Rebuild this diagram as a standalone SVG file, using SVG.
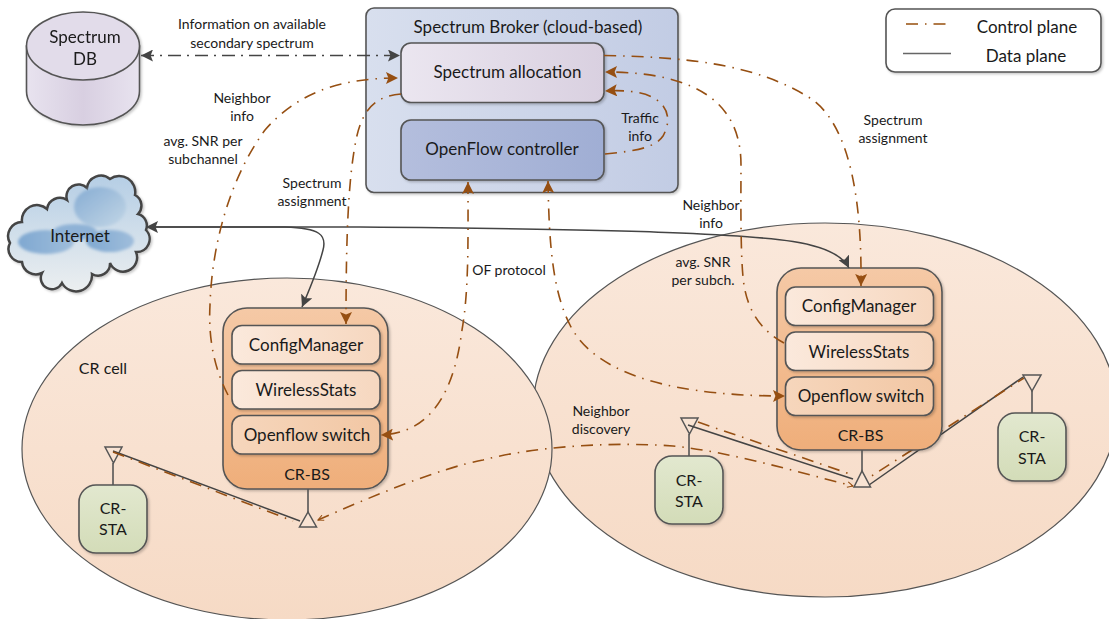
<svg xmlns="http://www.w3.org/2000/svg" width="1109" height="619" viewBox="0 0 1109 619">
<style>
text{font-family:"Lato","Open Sans","Liberation Sans",sans-serif;fill:#1a1a1a;text-anchor:middle}
.s{font-size:14px}.m{font-size:17px}.t{font-size:16px}
.n{stroke:#555;stroke-width:1.6}
.c{fill:none;stroke:#964f12;stroke-width:1.6;stroke-dasharray:12 7 1.500 7}
.d{fill:none;stroke:#444;stroke-width:1.500}
.dd{fill:none;stroke:#444;stroke-width:1.5;stroke-dasharray:13 6 2 6}
.an{fill:#f8e3d3;stroke:#555;stroke-width:1.5}
</style>
<defs>
<marker id="ab" viewBox="0 0 10 10" refX="10" refY="5" markerWidth="12" markerHeight="12" markerUnits="userSpaceOnUse" orient="auto-start-reverse"><path d="M0 0L10 5L0 10L2 5Z" fill="#964f12"/></marker>
<marker id="ad" viewBox="0 0 10 10" refX="10" refY="5" markerWidth="12" markerHeight="12" markerUnits="userSpaceOnUse" orient="auto-start-reverse"><path d="M0 0L10 5L0 10L2 5Z" fill="#444"/></marker>
<marker id="ao" viewBox="0 0 10 10" refX="9" refY="5" markerWidth="7" markerHeight="7" markerUnits="userSpaceOnUse" orient="auto-start-reverse"><path d="M1 1L9 5L1 9" fill="none" stroke="#964f12" stroke-width="1.5"/></marker>
<linearGradient id="cell" x1="0" y1="0" x2="0" y2="1"><stop offset="0" stop-color="#fae8db"/><stop offset="1" stop-color="#f6dac5"/></linearGradient>
<linearGradient id="brk" x1="0" y1="0" x2="1" y2="0"><stop offset="0" stop-color="#d8dfee"/><stop offset="1" stop-color="#c2cce4"/></linearGradient>
<linearGradient id="alc" x1="0" y1="0" x2="1" y2="0"><stop offset="0" stop-color="#ebe6f0"/><stop offset="1" stop-color="#d9d0e0"/></linearGradient>
<linearGradient id="ofc" x1="0" y1="0" x2="1" y2="0"><stop offset="0" stop-color="#b4bedd"/><stop offset="1" stop-color="#a0aed4"/></linearGradient>
<linearGradient id="bs" x1="0" y1="0" x2="0" y2="1"><stop offset="0" stop-color="#f5c9a6"/><stop offset="1" stop-color="#efae7a"/></linearGradient>
<linearGradient id="m1" x1="0" y1="0" x2="1" y2="0"><stop offset="0" stop-color="#fbe9dc"/><stop offset="1" stop-color="#f6d7bf"/></linearGradient>
<linearGradient id="m2" x1="0" y1="0" x2="1" y2="0"><stop offset="0" stop-color="#f6d6bc"/><stop offset="1" stop-color="#f2c7a4"/></linearGradient>
<linearGradient id="sta" x1="0" y1="0" x2="0" y2="1"><stop offset="0" stop-color="#e2e8cf"/><stop offset="1" stop-color="#d3dcb8"/></linearGradient>
<linearGradient id="cyl" x1="0" y1="0" x2="1" y2="0"><stop offset="0" stop-color="#e8e3ef"/><stop offset=".5" stop-color="#d8cfe1"/><stop offset="1" stop-color="#e8e3ef"/></linearGradient>
<linearGradient id="cld" x1="0" y1="0" x2="0" y2="1"><stop offset="0" stop-color="#b5cee5"/><stop offset="1" stop-color="#eceff0"/></linearGradient>
<linearGradient id="blob" x1="0" y1="0" x2="1" y2="1"><stop offset="0" stop-color="#86acd3"/><stop offset="1" stop-color="#c2d6e6"/></linearGradient>
<linearGradient id="blob2" x1="0" y1="0" x2="1" y2="0"><stop offset="0" stop-color="#7fa8d1"/><stop offset="1" stop-color="#9fbddb"/></linearGradient>
<filter id="sh" x="-10%" y="-10%" width="125%" height="125%"><feDropShadow dx="1.5" dy="1.5" stdDeviation="1.2" flood-color="#000" flood-opacity=".22"/></filter>
<filter id="soft" x="-20%" y="-20%" width="140%" height="140%"><feGaussianBlur stdDeviation="1.500"/></filter>
</defs>

<g id="cell-right"><ellipse cx="825" cy="410" rx="292" ry="187" fill="url(#cell)" stroke="#555" stroke-width="1.2"/></g>
<g id="cell-left"><ellipse cx="287" cy="449" rx="265" ry="171" fill="url(#cell)" stroke="#555" stroke-width="1.2"/><text x="103" y="374" class="t">CR cell</text></g>

<g id="connectors-under">
<path class="d" d="M869 485L1023 377"/>
<path class="c" d="M856 486L1024 378"/>
</g>

<g id="spectrum-db" filter="url(#sh)">
<path d="M26.500 46V91A56.500 34 0 0 0 139.500 91V46Z" fill="url(#cyl)" class="n"/>
<ellipse cx="83" cy="46" rx="56.500" ry="34" fill="#e2dcea" class="n"/>
<text x="85" y="43" class="m">Spectrum</text><text x="85" y="65" class="m">DB</text>
</g>

<g id="internet">
<path filter="url(#sh)" d="M22 262A13 13 0 0 1 10 243A14 14 0 0 1 22 222A15 15 0 0 1 47 209A13 13 0 0 1 67 200A12 12 0 0 1 87 188A14 14 0 0 1 110 179A16 16 0 0 1 135 195A12 12 0 0 1 138 214A12 12 0 0 1 146 230A13 13 0 0 1 136 252A14 14 0 0 1 110 263A12 12 0 0 1 92 274A16 16 0 0 1 62 283A11 11 0 0 1 42 273A14 14 0 0 1 22 262Z" fill="url(#cld)" stroke="#444" stroke-width="2.500"/>
<g filter="url(#soft)">
<ellipse cx="100" cy="207" rx="26" ry="20" fill="url(#blob)"/>
<ellipse cx="46" cy="242" rx="28" ry="12" fill="url(#blob2)"/>
<ellipse cx="75" cy="232" rx="22" ry="8" fill="#8fb2d6"/>
<ellipse cx="110" cy="241" rx="24" ry="11" fill="url(#blob2)"/>
</g>
<text x="80" y="242" class="m">Internet</text>
</g>

<g id="spectrum-broker">
<rect x="366" y="8" width="312" height="184.500" rx="8" fill="url(#brk)" class="n" filter="url(#sh)"/>
<text x="528" y="33" class="m">Spectrum Broker (cloud-based)</text>
</g>
<g id="spectrum-allocation"><rect x="401" y="43" width="203" height="59.500" rx="10" fill="url(#alc)" class="n" filter="url(#sh)"/><text x="507.500" y="78" class="m">Spectrum allocation</text></g>
<g id="openflow-controller"><rect x="401" y="120" width="203" height="60" rx="10" fill="url(#ofc)" class="n" filter="url(#sh)"/><text x="502" y="155" class="m">OpenFlow controller</text></g>

<g id="cr-bs-left">
<rect x="223" y="308" width="165" height="181" rx="24" fill="url(#bs)" class="n" filter="url(#sh)"/>
<text x="307" y="480" class="t">CR-BS</text>
<rect x="232" y="325.500" width="148" height="38.500" rx="10" fill="url(#m1)" class="n" filter="url(#sh)"/><text x="306" y="351" class="m">ConfigManager</text>
<rect x="232" y="370.500" width="148" height="38.500" rx="10" fill="url(#m1)" class="n" filter="url(#sh)"/><text x="306" y="396" class="m">WirelessStats</text>
<rect x="232" y="415.500" width="148" height="38.500" rx="10" fill="url(#m2)" class="n" filter="url(#sh)"/><text x="307" y="441" class="m">Openflow switch</text>
</g>
<g id="cr-bs-right">
<rect x="777" y="268" width="165" height="182" rx="24" fill="url(#bs)" class="n" filter="url(#sh)"/>
<text x="860.500" y="441" class="t">CR-BS</text>
<rect x="785.500" y="287" width="148" height="38.500" rx="10" fill="url(#m1)" class="n" filter="url(#sh)"/><text x="859" y="312" class="m">ConfigManager</text>
<rect x="785.500" y="332" width="148" height="38.500" rx="10" fill="url(#m1)" class="n" filter="url(#sh)"/><text x="859" y="358" class="m">WirelessStats</text>
<rect x="785.500" y="377" width="148" height="38.500" rx="10" fill="url(#m2)" class="n" filter="url(#sh)"/><text x="861" y="402" class="m">Openflow switch</text>
</g>
<g id="cr-sta-left"><rect x="79" y="485" width="68" height="68" rx="17" fill="url(#sta)" class="n" filter="url(#sh)"/><text x="113" y="514" class="t">CR-</text><text x="113" y="535" class="t">STA</text></g>
<g id="cr-sta-mid"><rect x="655" y="456" width="68" height="68" rx="17" fill="url(#sta)" class="n" filter="url(#sh)"/><text x="689" y="486" class="t">CR-</text><text x="689" y="507" class="t">STA</text></g>
<g id="cr-sta-right"><rect x="998" y="413" width="68" height="68" rx="17" fill="url(#sta)" class="n" filter="url(#sh)"/><text x="1032" y="442" class="t">CR-</text><text x="1032" y="464" class="t">STA</text></g>

<g id="antennas">
<path class="an" d="M105 447H122L113.500 463Z"/><path class="n" fill="none" d="M113 463V485"/>
<path class="an" d="M299.500 527H316.500L308 512Z"/><path class="n" fill="none" d="M308 489V512"/>
<path class="an" d="M854 487H870.500L862 471Z"/><path class="n" fill="none" d="M862 450V471"/>
<path class="an" d="M681 418H698L689.500 434Z"/><path class="n" fill="none" d="M689 434V456"/>
<path class="an" d="M1023 375H1041L1032 391Z"/><path class="n" fill="none" d="M1032 391V413"/>
</g>

<g id="connectors">
<path class="dd" d="M141 55.500H400" marker-start="url(#ad)" marker-end="url(#ad)"/>
<path class="d" d="M146 227H285C320 228 327 235 323 250C318 270 310 288 302 307" marker-start="url(#ad)" marker-end="url(#ad)" stroke-width="1.600"/>
<path class="d" d="M146 227H360C480 228 600 229 680 233C770 237 835 240 849 268" marker-end="url(#ad)"/>
<path class="d" d="M113 451L300 521"/>
<path class="d" d="M688 425L853 479"/>
<path class="c" d="M228 395C215 370 208 340 210 305C212 240 232 175 265 130C300 90 345 78 398 78" marker-end="url(#ab)"/>
<path class="c" d="M401 94C375 96 362 110 356 140C348 180 346 240 346 324" marker-end="url(#ab)"/>
<path class="c" d="M468 182C468 240 469 290 462 330C455 385 435 433 381 435" marker-start="url(#ab)" marker-end="url(#ab)"/>
<path class="c" d="M548 181C549 240 552 290 570 325C590 365 650 396 785 396" marker-start="url(#ab)" marker-end="url(#ab)"/>
<path class="c" d="M604 55.500C690 57 760 65 813 100C850 128 862 200 861 286" marker-end="url(#ab)"/>
<path class="c" d="M784 343C760 330 748 310 744 285C740 260 741 190 741 165C741 105 700 72 605 72" marker-end="url(#ab)"/>
<path class="c" d="M605 154C635 151 655 148 663 136C672 120 668 105 652 97C640 91 622 90 605 91" marker-end="url(#ab)"/>
<path class="c" d="M113 452L293 521"/>
<path class="c" d="M318 520C370 497 440 468 483 460C540 445 620 442 673 446C730 452 790 470 853 486" marker-start="url(#ao)" marker-end="url(#ao)"/>
<path class="c" d="M698 422L853 475"/>
</g>

<g id="labels">
<text x="252" y="29" class="s">Information on available</text><text x="252" y="47.500" class="s">secondary spectrum</text>
<text x="242" y="103" class="s">Neighbor</text><text x="242" y="121" class="s">info</text>
<text x="203" y="146" class="s">avg. SNR per</text><text x="203" y="164" class="s">subchannel</text>
<text x="312" y="188" class="s">Spectrum</text><text x="312" y="206" class="s">assignment</text>
<text x="640" y="123" class="s">Traffic</text><text x="640" y="141" class="s">info</text>
<text x="509" y="275" class="s">OF protocol</text>
<text x="893" y="125" class="s">Spectrum</text><text x="893" y="143" class="s">assignment</text>
<text x="711" y="210" class="s">Neighbor</text><text x="711" y="228" class="s">info</text>
<text x="703" y="267" class="s">avg. SNR</text><text x="703" y="285" class="s">per subch.</text>
<text x="601" y="416" class="s">Neighbor</text><text x="601" y="434" class="s">discovery</text>
</g>

<g id="legend">
<rect x="886" y="9" width="215" height="63" rx="9" fill="#fff" class="n" filter="url(#sh)"/>
<path class="c" d="M906 24H951" style="stroke:#b07a48;stroke-width:1.800"/><path d="M903 53.500H951" stroke="#666" stroke-width="1.500"/>
<text x="1027" y="33" class="m">Control plane</text>
<text x="1026" y="61.500" class="m">Data plane</text>
</g>
</svg>
